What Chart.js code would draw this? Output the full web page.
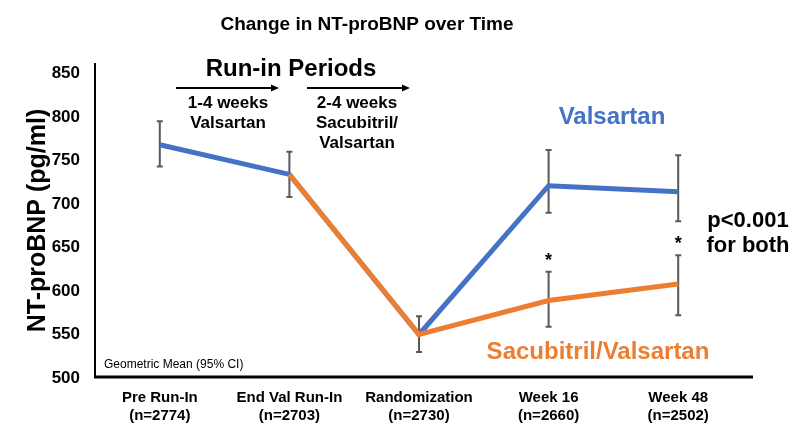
<!DOCTYPE html>
<html>
<head>
<meta charset="utf-8">
<script src="https://cdn.jsdelivr.net/npm/chart.js@4"></script>
<style>
  html, body { margin: 0; padding: 0; background: #fff; }
  #wrap { width: 803px; height: 439px; }
</style>
</head>
<body>
<div id="wrap"><canvas id="ntChart"></canvas></div>
<script>
const categories = [['Pre Run-In', '(n=2774)'], ['End Val Run-In', '(n=2703)'], ['Randomization', '(n=2730)'], ['Week 16', '(n=2660)'], ['Week 48', '(n=2502)']];
const valsartan = [768, 734, 550, 721, 714];
const valsartanLow = [743, 708, 530, 690, 680];
const valsartanHigh = [795, 760, 571, 762, 756];
const sacVal = [null, 734, 550, 589, 608];
const sacValLow = [null, null, null, 559, 572];
const sacValHigh = [null, null, null, 622, 641];
const yTicks = [500, 550, 600, 650, 700, 750, 800, 850];

const BLUE = '#4472C4';
const ORANGE = '#ED7D31';
const SANS = "'Liberation Sans', Arial, sans-serif";

// error bars, axes and the slide-style notes
const extras = {
  id: 'extras',
  beforeDatasetsDraw(chart) {
    const c = chart.ctx, x = chart.scales.x, y = chart.scales.y;
    c.save();
    c.strokeStyle = '#595959';
    c.lineWidth = 2;
    const bars = (lo, hi) => lo.forEach((l, i) => {
      if (l == null) return;
      const px = x.getPixelForValue(i), top = y.getPixelForValue(hi[i]), bot = y.getPixelForValue(l);
      c.beginPath();
      c.moveTo(px, top); c.lineTo(px, bot);
      c.moveTo(px - 3, top); c.lineTo(px + 3, top);
      c.moveTo(px - 3, bot); c.lineTo(px + 3, bot);
      c.stroke();
    });
    bars(valsartanLow, valsartanHigh);
    bars(sacValLow, sacValHigh);
    // asterisks above the sacubitril/valsartan bars
    c.fillStyle = '#000';
    c.font = 'bold 18px ' + SANS;
    c.textAlign = 'center';
    c.textBaseline = 'middle';
    sacValHigh.forEach((h, i) => {
      if (h == null) return;
      c.fillText('*', x.getPixelForValue(i), y.getPixelForValue(h) - 11);
    });
    c.restore();
  },
  afterDraw(chart) {
    const c = chart.ctx, a = chart.chartArea;
    c.save();
    // axis lines
    c.strokeStyle = '#000';
    c.lineWidth = 2;
    c.beginPath(); c.moveTo(95, a.top); c.lineTo(95, 378); c.stroke();
    c.lineWidth = 3;
    c.beginPath(); c.moveTo(94, 377); c.lineTo(753, 377); c.stroke();

    c.textAlign = 'center';
    c.textBaseline = 'middle';
    c.fillStyle = '#000';
    c.font = 'bold 19px ' + SANS;
    c.fillText('Change in NT-proBNP over Time', 367, 25);

    c.font = 'bold 24px ' + SANS;
    c.fillText('Run-in Periods', 291, 69);

    // arrows
    const arrow = (x1, x2, yy) => {
      c.lineWidth = 2;
      c.beginPath(); c.moveTo(x1, yy); c.lineTo(x2 - 6, yy); c.stroke();
      c.beginPath(); c.moveTo(x2, yy); c.lineTo(x2 - 8, yy - 3.5); c.lineTo(x2 - 8, yy + 3.5); c.closePath(); c.fill();
    };
    arrow(176, 279, 88);
    arrow(307, 410, 88);

    c.font = 'bold 17px ' + SANS;
    c.fillText('1-4 weeks', 228, 103);
    c.fillText('Valsartan', 228, 123);
    c.fillText('2-4 weeks', 357, 103);
    c.fillText('Sacubitril/', 357, 123);
    c.fillText('Valsartan', 357, 143);

    c.font = 'bold 24px ' + SANS;
    c.fillStyle = BLUE;
    c.fillText('Valsartan', 612, 117);
    c.fillStyle = ORANGE;
    c.fillText('Sacubitril/Valsartan', 598, 352);

    c.fillStyle = '#000';
    c.font = 'bold 22px ' + SANS;
    c.fillText('p<0.001', 748, 221);
    c.fillText('for both', 748, 246);

    c.textAlign = 'left';
    c.font = '12px ' + SANS;
    c.fillText('Geometric Mean (95% CI)', 104, 365);
    c.restore();
  }
};

new Chart(document.getElementById('ntChart'), {
  type: 'line',
  data: {
    labels: categories,
    datasets: [{
      label: 'Sacubitril/Valsartan',
      data: sacVal,
      borderColor: ORANGE,
      backgroundColor: ORANGE,
      borderWidth: 5,
      pointRadius: 0,
      tension: 0
    }, {
      label: 'Valsartan',
      data: valsartan,
      borderColor: BLUE,
      backgroundColor: BLUE,
      borderWidth: 5,
      pointRadius: 0,
      tension: 0
    }]
  },
  options: {
    responsive: true,
    maintainAspectRatio: false,
    animation: false,
    layout: { padding: { left: 0, right: 60, top: 63, bottom: 0 } },
    plugins: {
      legend: { display: false },
      tooltip: { enabled: false },
      title: { display: false }
    },
    scales: {
      x: {
        offset: true,
        grid: { display: false, drawTicks: false },
        border: { display: false },
        ticks: {
          color: '#000',
          padding: 11,
          maxRotation: 0,
          font: { family: SANS, size: 15, weight: 'bold' }
        },
        afterFit(s) { s.height = 61; }
      },
      y: {
        min: 500,
        max: 862,
        grid: { display: false, drawTicks: false },
        border: { display: false },
        afterBuildTicks(s) { s.ticks = yTicks.map(v => ({ value: v })); },
        ticks: {
          color: '#000',
          padding: 15,
          font: { family: SANS, size: 17, weight: 'bold' }
        },
        title: {
          display: true,
          text: 'NT-proBNP (pg/ml)',
          color: '#000',
          font: { family: SANS, size: 25, weight: 'bold' },
          padding: { top: 23, bottom: 0 }
        },
        afterFit(s) { s.width = 95; }
      }
    }
  },
  plugins: [extras]
});
</script>
</body>
</html>
